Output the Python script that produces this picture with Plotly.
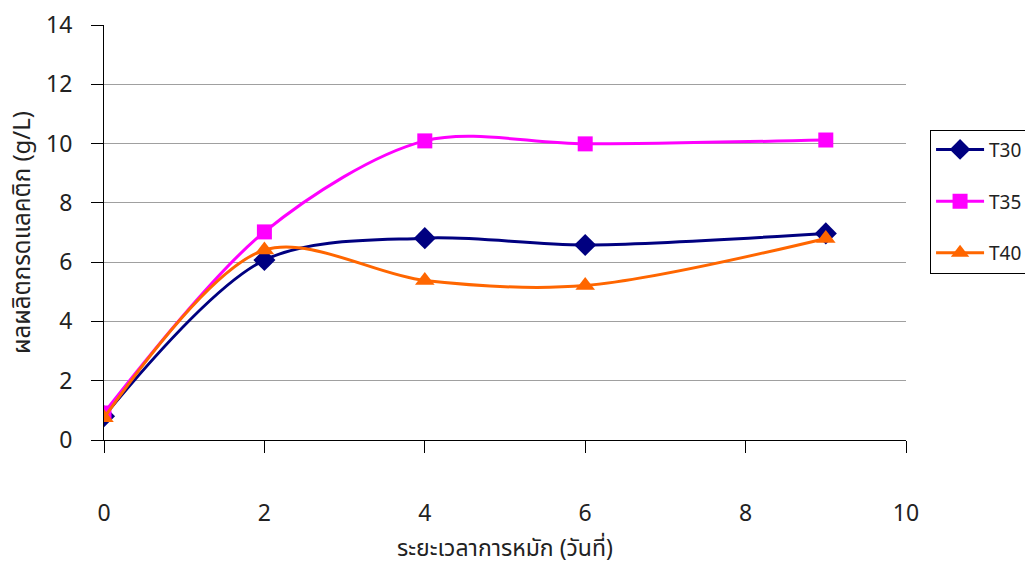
import plotly.graph_objects as go

# Fermentation time (days) and lactic acid yield (g/L) at three temperatures
days = [0, 2, 4, 6, 9]
t30 = [0.8, 6.07, 6.81, 6.58, 6.97]
t35 = [0.91, 7.02, 10.09, 9.99, 10.12]
t40 = [0.75, 6.41, 5.38, 5.21, 6.8]

series_names = ["T30", "T35", "T40"]
series_values = [t30, t35, t40]
series_colors = ["#000080", "#FF00FF", "#FF6600"]
series_symbols = ["diamond", "square", "triangle-up"]
series_sizes = [17, 15, 17]

y_ticks = [0, 2, 4, 6, 8, 10, 12, 14]
x_ticks = [0, 2, 4, 6, 8, 10]

THAI_FONT = "Noto Sans Thai, Loma, Garuda, Tahoma, DejaVu Sans, sans-serif"

fig = go.Figure()
for name, vals, color, sym, size in zip(series_names, series_values, series_colors,
                                        series_symbols, series_sizes):
    fig.add_trace(go.Scatter(
        x=days, y=vals, name=name, mode="lines+markers",
        line=dict(color=color, width=3, shape="spline", smoothing=0.9),
        marker=dict(symbol=sym, size=size, color=color),
        legendgroup=name,
    ))

fig.update_layout(
    width=1025, height=566,
    margin=dict(l=104, r=119, t=25, b=126, autoexpand=False),
    plot_bgcolor="white", paper_bgcolor="white",
    font=dict(family=THAI_FONT, color="#222222"),
    showlegend=True,
    legend=dict(
        x=1.03, y=0.748, xanchor="left", yanchor="top",
        bordercolor="black", borderwidth=1, bgcolor="white",
        font=dict(size=19, color="#222222"),
        tracegroupgap=24, itemwidth=48,
    ),
    xaxis=dict(
        range=[0, 10], tickvals=x_ticks, showgrid=False, zeroline=False,
        showline=True, linecolor="black", linewidth=1,
        ticks="outside", ticklen=12, tickcolor="black",
        ticklabelstandoff=40, automargin=False,
        tickfont=dict(size=23),
        title=dict(text="ระยะเวลาการหมัก (วันที่)", font=dict(size=23), standoff=18),
    ),
    yaxis=dict(
        range=[0, 14], tickvals=y_ticks, showgrid=True, gridcolor="#A0A0A0", gridwidth=1,
        zeroline=False, showline=True, linecolor="black", linewidth=1,
        ticks="outside", ticklen=12, tickcolor="black",
        ticklabelstandoff=14, automargin=False,
        tickfont=dict(size=23),
        title=dict(text="ผลผลิตกรดแลคติก (g/L)", font=dict(size=24), standoff=8),
    ),
)

fig.write_html("out.html")
